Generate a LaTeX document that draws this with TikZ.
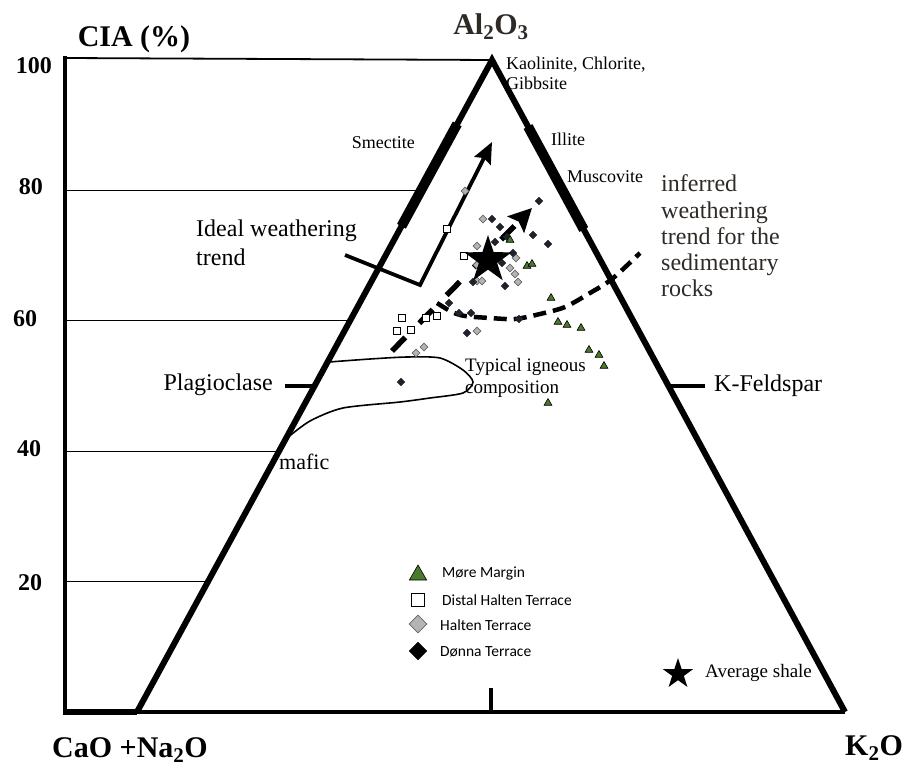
\documentclass[tikz,border=0pt]{standalone}
\usepackage{fontspec}
\setmainfont{Liberation Serif}
\newfontfamily\legendfont{Carlito}
\usetikzlibrary{shapes.geometric,arrows.meta,calc}

\definecolor{moregreen}{HTML}{4A7A2C}
\definecolor{haltengray}{HTML}{B4B4B4}
\definecolor{donnablack}{HTML}{1E232B}
\definecolor{inkdark}{HTML}{2F2A26}

\tikzstyle{sideline} = [line width=6pt, line join=miter]
\tikzstyle{baseline} = [line width=4pt]
\tikzstyle{gridline} = [line width=1.4pt]
\tikzstyle{tickline} = [line width=3.5pt]
\tikzstyle{mineralbar} = [line width=10pt]
\tikzstyle{trendarrow} = [line width=3.8pt, -{Stealth[length=21pt, width=18pt, inset=3pt]}]
\tikzstyle{dashedarrow} = [line width=5.5pt, dash pattern=on 19pt off 20pt, -{Stealth[length=23pt, width=23pt, inset=4pt]}]
\tikzstyle{cornerlabel} = [font=\bfseries\fontsize{30}{32}\selectfont, inner sep=0pt]
\tikzstyle{ticklabel} = [font=\bfseries\fontsize{24}{26}\selectfont, inner sep=0pt]
\tikzstyle{note} = [font=\fontsize{24}{29}\selectfont, align=left, inner sep=0pt]
\tikzstyle{mineral} = [font=\fontsize{18}{20}\selectfont, align=left, inner sep=0pt]
\tikzstyle{legendtext} = [font=\legendfont\fontsize{15.5}{17}\selectfont, anchor=west, inner sep=0pt]
\tikzstyle{moremark} = [regular polygon, regular polygon sides=3, draw=black, fill=moregreen, line width=0.6pt, inner sep=0pt, minimum size=9pt]
\tikzstyle{distalmark} = [rectangle, draw=black, fill=white, line width=0.8pt, inner sep=0pt, minimum size=7pt]
\tikzstyle{haltenmark} = [diamond, draw=black!60, fill=haltengray, line width=0.8pt, inner sep=0pt, minimum size=8pt]
\tikzstyle{donnamark} = [diamond, draw=donnablack, fill=donnablack, inner sep=0pt, minimum size=8pt]
\tikzstyle{shalemark} = [star, star points=5, star point ratio=2.6, fill=black, inner sep=0pt]

\begin{document}
\begin{tikzpicture}[x=1pt, y=-1pt]
  \useasboundingbox (0,0) rectangle (918,768);

  % frame of the diagram
  \coordinate (CaO) at (137,712);
  \coordinate (Al) at (492,60);
  \coordinate (K2O) at (845,712);
  \coordinate (Axis Top) at (65,58);
  \coordinate (Axis Foot) at (65,712);

  \draw [line width=4.5pt] (65,56) -- (65,714);
  \draw [line width=5.5pt] (63,712) -- (CaO);
  \draw [line width=1.8pt] (Axis Top) -- (Al);
  \foreach \f in {0.2,0.4,0.6,0.8} {
    \coordinate (Grid End) at ($(CaO)!\f!(Al)$);
    \draw [gridline] (Grid End -| Axis Top) -- (Grid End);
  }
  \draw [baseline] (CaO) -- (K2O);
  \draw [sideline] (K2O) -- (Al) -- (CaO);

  % mineral bars and ticks
  \draw [mineralbar] ($(CaO)!0.745!(Al)$) -- ($(CaO)!0.902!(Al)$);
  \draw [mineralbar] ($(K2O)!0.74!(Al)$) -- ($(K2O)!0.898!(Al)$);
  \coordinate (Plag Tick) at ($(CaO)!0.5!(Al)$);
  \coordinate (Kfs Tick) at ($(K2O)!0.5!(Al)$);
  \coordinate (Base Mid) at ($(CaO)!0.5!(K2O)$);
  \draw [tickline] (Plag Tick) -- ++(-30,0);
  \draw [tickline] (Kfs Tick) -- ++(36,0);
  \draw [tickline] (Base Mid) -- ++(0,-24);

  % axis and corner labels
  \node (CIA) [cornerlabel] at (134,39) {CIA (\%)};
  \node (Al2O3) [cornerlabel, text=inkdark] at (491,27) {Al\textsubscript{2}O\textsubscript{3}};
  \node (CaO label) [cornerlabel] at (130,750) {CaO +Na\textsubscript{2}O};
  \node (K2O label) [cornerlabel] at (874,748) {K\textsubscript{2}O};
  \node (Tick 100) [ticklabel] at (34,66) {100};
  \node (Tick 80) [ticklabel] at (31,187) {80};
  \node (Tick 60) [ticklabel] at (25,319) {60};
  \node (Tick 40) [ticklabel] at (29,449) {40};
  \node (Tick 20) [ticklabel] at (30,583) {20};

  % igneous field
  \draw [line width=1.6pt] plot [smooth, tension=0.45] coordinates {(329,362) (370,359) (407,357) (440,358) (463,370) (473,382) (463,393) (430,398) (400,402) (343,408) (310,421) (287,438)};

  % weathering trends
  \coordinate (Ideal Start) at (345,255);
  \coordinate (Ideal Corner) at (420,285);
  \coordinate (Ideal Tip) at (492,142);
  \draw [trendarrow, line join=miter] (Ideal Start) -- (Ideal Corner) -- (Ideal Tip);
  \coordinate (Inferred Start) at (392,351);
  \coordinate (Inferred Tip) at (532,208);
  \draw [dashedarrow] (Inferred Start) -- (Inferred Tip);
  \draw [line width=4.5pt, dash pattern=on 13pt off 7pt] plot [smooth] coordinates {(437,303) (452,312) (465,316) (490,318) (515,319) (540,314) (565,307) (590,293) (612,279) (640,253)};

  % samples
  \foreach \px/\py [count=\i] in {465/191, 483/219, 477/246, 516/258, 477/265, 484/267, 510/268, 515/274, 518/282, 477/281, 482/281, 477/331, 424/347, 416/353}
    \node (Halten \i) [haltenmark] at (\px,\py) {};
  \foreach \px/\py [count=\i] in {539/201, 492/219, 500/227, 533/235, 548/244, 507/237, 495/242, 513/253, 502/263, 473/282, 505/286, 449/303, 459/313, 471/313, 519/319, 467/333, 401/382}
    \node (Donna \i) [donnamark] at (\px,\py) {};
  \foreach \px/\py [count=\i] in {447/229, 464/256, 402/318, 426/318, 437/316, 397/331, 411/330}
    \node (Distal \i) [distalmark] at (\px,\py) {};
  \foreach \px/\py [count=\i] in {510/240, 527/266, 532/264, 551/298, 558/322, 567/325, 581/328, 589/350, 599/355, 604/366, 548/403}
    \node (More \i) [moremark] at (\px,\py) {};
  \node (Shale) [shalemark, minimum size=50pt] at (488,260) {};

  % text labels
  \node (Kaolinite) [mineral, anchor=west] at (506,73) {Kaolinite, Chlorite,\\Gibbsite};
  \node (Illite) [mineral, anchor=west] at (551,139) {Illite};
  \node (Muscovite) [mineral, anchor=west] at (567,177) {Muscovite};
  \node (Smectite) [mineral, anchor=east] at (415,143) {Smectite};
  \node (Ideal) [note, anchor=west] at (196,243) {Ideal weathering\\trend};
  \node (Inferred) [note, anchor=west, text=inkdark, font=\fontsize{24}{26.3}\selectfont] at (661,236) {inferred\\weathering\\trend for the\\sedimentary\\rocks};
  \node (Plagioclase) [note, anchor=east] at (273,385) {Plagioclase};
  \node (K-Feldspar) [note, anchor=west] at (714,386) {K-Feldspar};
  \node (Mafic) [note, anchor=west, font=\fontsize{22}{26}\selectfont] at (279,462) {mafic};
  \node (Igneous) [note, anchor=west, font=\fontsize{19}{22}\selectfont] at (465,378) {Typical igneous\\composition};

  % legend
  \node (Legend More) [moremark, minimum size=20pt] at (418,575) {};
  \node (Legend Distal) [distalmark, minimum size=13pt] at (418,600) {};
  \node (Legend Halten) [haltenmark, minimum size=18pt] at (418,624) {};
  \node (Legend Donna) [donnamark, minimum size=18pt, draw=black, fill=black] at (418,651) {};
  \node (More Text) [legendtext] at (442,573) {Møre Margin};
  \node (Distal Text) [legendtext] at (442,600) {Distal Halten Terrace};
  \node (Halten Text) [legendtext] at (440,625) {Halten Terrace};
  \node (Donna Text) [legendtext] at (440,652) {Dønna Terrace};
  \node (Legend Shale) [shalemark, minimum size=32pt] at (678,674) {};
  \node (Shale Text) [anchor=west, inner sep=0pt, font=\fontsize{19}{22}\selectfont] at (705,673) {Average shale};
\end{tikzpicture}
\end{document}
